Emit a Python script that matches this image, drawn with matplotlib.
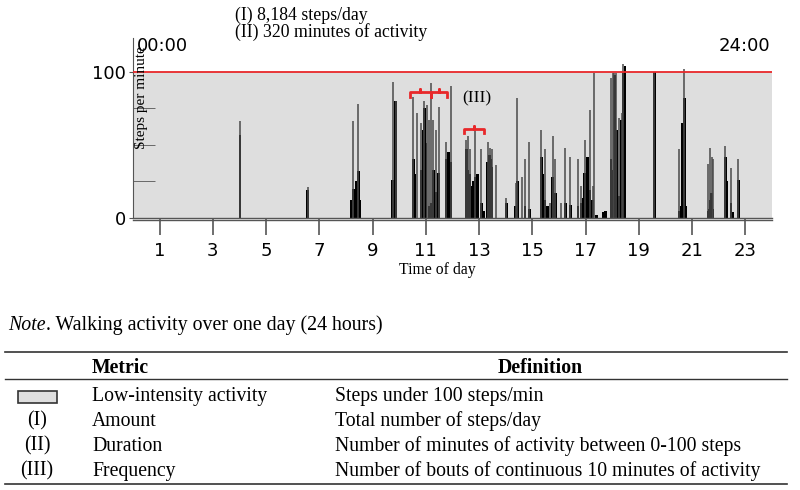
import matplotlib
matplotlib.use("Agg")
import matplotlib.pyplot as plt
from matplotlib.lines import Line2D
from matplotlib.patches import Rectangle

# ---------------- data ----------------
# thin peak lines (hour of day, steps/min)
peak_t = [4.02, 6.56, 8.25, 8.45, 9.75, 9.87, 10.53, 10.65, 10.83, 10.94, 11.03,
          11.12, 11.20, 11.28, 11.38, 11.48, 11.77, 11.95, 12.52, 12.57, 12.64,
          12.83, 13.08, 13.32, 13.39, 13.48, 13.64, 14.02, 14.37, 14.44, 14.62,
          14.72, 14.88, 15.34, 15.46, 15.67, 15.76, 15.86, 16.07, 16.24, 16.42,
          16.71, 16.82, 16.97, 17.17, 17.27, 17.33, 17.95, 18.01, 18.08, 18.15,
          18.27, 18.35, 18.42, 19.58, 20.51, 20.71, 21.59, 21.67, 21.73, 21.79,
          22.25, 22.46, 22.73]
peak_v = [66, 21, 66, 78, 93, 80, 83, 72, 65, 80, 77,
          67, 92, 67, 60, 76, 52, 90, 53, 56, 47,
          62, 47, 52, 48, 47, 36, 14, 24, 82, 28,
          40, 52, 60, 47, 10, 56, 40, 10, 48, 42,
          40, 22, 53, 74, 22, 99, 96, 99, 99, 99,
          68, 72, 105, 100, 47, 102, 37, 48, 42, 40,
          49, 34, 40]

# dense black activity (hour of day, steps/min)
body_t = [4.02, 6.56, 8.20, 8.27, 8.33, 8.40, 8.46, 8.50, 9.75, 9.87,
          10.53, 10.58, 10.83, 10.90, 10.95, 11.00, 11.12, 11.20, 11.28, 11.38,
          11.48, 11.77, 11.85, 11.95, 12.52, 12.57, 12.64, 12.70, 12.78, 12.86,
          12.94, 13.08, 13.17, 13.32, 13.39, 13.45, 13.48, 14.02, 14.37, 14.44,
          14.72, 14.88, 15.34, 15.40, 15.46, 15.57, 15.76, 15.86, 16.24, 16.42,
          16.71, 16.82, 16.90, 16.97, 17.07, 17.17, 17.27, 17.40, 17.65, 17.75,
          17.95, 18.01, 18.08, 18.15, 18.21, 18.27, 18.35, 18.42, 18.48, 19.58,
          20.51, 20.58, 20.65, 20.71, 20.77, 21.59, 21.64, 21.67, 21.73, 21.79,
          22.25, 22.30, 22.46, 22.51, 22.73]
body_v = [57, 19, 12, 20, 18, 25, 32, 12, 26, 80,
          40, 30, 33, 60, 75, 51, 8, 10, 33, 18,
          31, 40, 45, 38, 47, 33, 30, 22, 25, 28,
          30, 10, 5, 38, 43, 40, 35, 10, 8, 25,
          8, 6, 42, 30, 12, 8, 28, 17, 10, 9,
          8, 10, 14, 31, 42, 19, 12, 2, 4, 5,
          40, 33, 98, 60, 12, 15, 67, 99, 104, 100,
          5, 8, 65, 82, 8, 5, 6, 12, 17, 6,
          42, 25, 10, 4, 26]

# bouts of continuous activity (start hour, end hour, level)
bout_start = [10.39, 11.20, 12.45]
bout_end = [11.20, 11.80, 13.17]
bout_level = [86, 86, 61]

x_ticks = list(range(1, 24, 2))

metric_syms = ["", "(I)", "(II)", "(III)"]
metric_names = ["Low-intensity activity", "Amount", "Duration", "Frequency"]
metric_defs = ["Steps under 100 steps/min",
               "Total number of steps/day",
               "Number of minutes of activity between 0-100 steps",
               "Number of bouts of continuous 10 minutes of activity"]

# ---------------- figure ----------------
W, H = 800, 490
fig = plt.figure(figsize=(8, 4.9), dpi=100)
serif = "Liberation Serif"
sans = "DejaVu Sans"

def fx(px):
    return px / W

def fy(py):
    return 1 - py / H

ax = fig.add_axes([fx(133), fy(218), fx(772) - fx(133), (218 - 38) / H])
ax.set_xlim(0, 24)
ax.set_ylim(0, 123)
ax.set_facecolor("white")
ax.axhspan(0, 100, color="#dedede", zorder=0, lw=0)
ax.axhline(100, color="#e8282a", lw=1.3, zorder=3, xmax=1)

ax.bar(body_t, body_v, width=0.1, color="black", zorder=2, lw=0)
ax.vlines(peak_t, 0, peak_v, colors="#4a4a4a", lw=1.1, zorder=2)

# bout braces
for s, e, lv in zip(bout_start, bout_end, bout_level):
    m = (s + e) / 2
    ax.plot([s, s, m, m, m, e, e], [lv - 3, lv, lv, lv + 2, lv, lv, lv - 3],
            color="#e8282a", lw=2.0, zorder=4, solid_joinstyle="round")

ax.text(12.37, 82, "(III)", family=serif, fontsize=12.5, va="center", ha="left")

for sp in ["top", "right"]:
    ax.spines[sp].set_visible(False)
ax.spines["left"].set_color("#555555")
ax.spines["bottom"].set_color("#555555")
ax.spines["bottom"].set_linewidth(1.0)
ax.axhline(-1.3, color="#555555", lw=1.0, clip_on=False)

ax.set_xticks(x_ticks)
ax.set_xticklabels([str(t) for t in x_ticks], family=sans, fontsize=13)
ax.tick_params(axis="x", direction="out", length=12, width=1.2, color="#555555", pad=5)
ax.set_yticks([0, 100])
ax.set_yticklabels(["0", "100"], family=sans, fontsize=13)
ax.tick_params(axis="y", direction="out", length=3, color="#555555", pad=2)
ax.set_yticks([25, 50, 75], minor=True)
ax.tick_params(axis="y", which="minor", direction="in", length=16, color="#555555")

fig.text(fx(137), fy(46), "00:00", family=sans, fontsize=13, ha="left", va="center")
fig.text(fx(770), fy(46), "24:00", family=sans, fontsize=13, ha="right", va="center")
fig.text(fx(141), fy(98), "Steps per minute", family=serif, fontsize=11,
         rotation=90, ha="center", va="center")
fig.text(fx(437), fy(270), "Time of day", family=serif, fontsize=11.3, ha="center", va="center")
fig.text(fx(235), fy(15), "(I) 8,184 steps/day", family=serif, fontsize=12.8, ha="left", va="center")
fig.text(fx(235), fy(32), "(II) 320 minutes of activity", family=serif, fontsize=12.8,
         ha="left", va="center")

# ---------------- note ----------------
note = fig.text(fx(8), fy(330), "Note", family=serif, style="italic", fontsize=14.3,
                ha="left", va="baseline")
ax.annotate(". Walking activity over one day (24 hours)", xy=(1, 0), xycoords=note,
            family=serif, fontsize=14.3, ha="left", va="bottom", annotation_clip=False)

# ---------------- table ----------------
for yy, lw in [(352, 1.2), (379, 1.0), (484, 1.2)]:
    fig.add_artist(Line2D([fx(5), fx(787)], [fy(yy), fy(yy)], color="#333333", lw=lw))

fs = 14.2
fig.text(fx(92), fy(368), "Metric", family=serif, weight="bold", fontsize=fs,
         ha="left", va="center")
fig.text(fx(540), fy(368), "Definition", family=serif, weight="bold", fontsize=fs,
         ha="center", va="center")

row_y = [396, 421, 446, 471]
for i, yy in enumerate(row_y):
    if metric_syms[i]:
        fig.text(fx(37), fy(yy), metric_syms[i], family=serif, fontsize=fs,
                 ha="center", va="center")
    fig.text(fx(92), fy(yy), metric_names[i], family=serif, fontsize=fs,
             ha="left", va="center")
    fig.text(fx(335), fy(yy), metric_defs[i], family=serif, fontsize=fs,
             ha="left", va="center")

fig.add_artist(Rectangle((fx(18), fy(403)), fx(57) - fx(18), (403 - 391) / H,
                         facecolor="#dedede", edgecolor="#333333", lw=1.2))

fig.savefig("out.png", dpi=100)
